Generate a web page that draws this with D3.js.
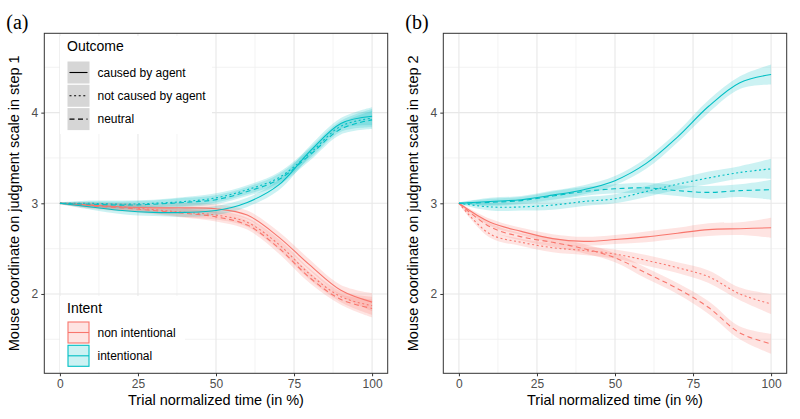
<!DOCTYPE html>
<html>
<head>
<meta charset="utf-8">
<script src="https://cdn.jsdelivr.net/npm/d3@7"></script>
<style>
  html, body { margin: 0; padding: 0; background: #fff; }
  svg { display: block; }
  text { font-family: "Liberation Sans", Arial, sans-serif; }
</style>
</head>
<body>
<svg id="chart" width="800" height="419"></svg>
<script>
// ---------------- DATA ----------------
const times = [0, 10, 20, 30, 40, 50, 60, 70, 80, 90, 100];
const xTickValues = [0, 25, 50, 75, 100];
const yTickValues = [2, 3, 4];
const outcomes = ["caused by agent", "not caused by agent", "neutral"];
const intents = ["non intentional", "intentional"];
const panelLabels = ["(a)", "(b)"];
const yTitles = ["Mouse coordinate on judgment scale in step 1",
                 "Mouse coordinate on judgment scale in step 2"];
const xTitle = "Trial normalized time (in %)";

// Panel (a) – step 1
const a_nonint_caused    = [3.00, 2.98, 2.96, 2.95, 2.95, 2.94, 2.87, 2.63, 2.32, 2.04, 1.91];
const a_nonint_notcaused = [3.00, 2.98, 2.96, 2.93, 2.90, 2.87, 2.79, 2.55, 2.22, 1.97, 1.87];
const a_nonint_neutral   = [3.00, 2.97, 2.95, 2.92, 2.89, 2.85, 2.76, 2.51, 2.18, 1.94, 1.84];
const a_int_caused       = [3.00, 2.96, 2.92, 2.90, 2.90, 2.92, 3.01, 3.20, 3.57, 3.88, 3.96];
const a_int_notcaused    = [3.00, 3.00, 2.99, 3.00, 3.02, 3.06, 3.15, 3.28, 3.55, 3.85, 3.94];
const a_int_neutral      = [3.00, 2.99, 2.98, 2.99, 3.01, 3.04, 3.13, 3.26, 3.53, 3.82, 3.92];
const a_halfwidth        = [0.01, 0.03, 0.04, 0.04, 0.05, 0.05, 0.05, 0.06, 0.06, 0.06, 0.10];

// Panel (b) – step 2
const b_nonint_caused    = [3.00, 2.79, 2.69, 2.61, 2.58, 2.60, 2.63, 2.67, 2.71, 2.72, 2.73];
const b_nonint_notcaused = [3.00, 2.66, 2.57, 2.51, 2.48, 2.44, 2.37, 2.29, 2.19, 2.00, 1.89];
const b_nonint_neutral   = [3.00, 2.74, 2.63, 2.57, 2.50, 2.40, 2.23, 2.06, 1.85, 1.57, 1.45];
const b_int_caused       = [3.00, 3.02, 3.04, 3.09, 3.15, 3.25, 3.44, 3.73, 4.07, 4.33, 4.42];
const b_int_notcaused    = [3.00, 2.96, 2.96, 2.98, 3.02, 3.05, 3.13, 3.21, 3.28, 3.34, 3.38];
const b_int_neutral      = [3.00, 3.01, 3.03, 3.08, 3.13, 3.16, 3.17, 3.14, 3.12, 3.14, 3.15];
const b_halfwidth        = [0.01, 0.04, 0.04, 0.05, 0.05, 0.05, 0.06, 0.06, 0.07, 0.07, 0.11];

// ---------------- STYLE ----------------
const colorByIntent = { "non intentional": "#F8766D", "intentional": "#00BFC4" };
const dashByOutcome = { "caused by agent": null, "not caused by agent": "2,2.6", "neutral": "5,3.5" };

const panels = [
  { left: 44.3, right: 387.7, label: panelLabels[0], yTitle: yTitles[0], hw: a_halfwidth,
    series: [
      { intent: intents[0], outcome: outcomes[0], v: a_nonint_caused },
      { intent: intents[0], outcome: outcomes[1], v: a_nonint_notcaused },
      { intent: intents[0], outcome: outcomes[2], v: a_nonint_neutral },
      { intent: intents[1], outcome: outcomes[0], v: a_int_caused },
      { intent: intents[1], outcome: outcomes[1], v: a_int_notcaused },
      { intent: intents[1], outcome: outcomes[2], v: a_int_neutral }
    ], legend: true },
  { left: 443.3, right: 786.7, label: panelLabels[1], yTitle: yTitles[1], hw: b_halfwidth,
    series: [
      { intent: intents[0], outcome: outcomes[0], v: b_nonint_caused },
      { intent: intents[0], outcome: outcomes[1], v: b_nonint_notcaused },
      { intent: intents[0], outcome: outcomes[2], v: b_nonint_neutral },
      { intent: intents[1], outcome: outcomes[0], v: b_int_caused },
      { intent: intents[1], outcome: outcomes[1], v: b_int_notcaused },
      { intent: intents[1], outcome: outcomes[2], v: b_int_neutral }
    ], legend: false }
];

const plotTop = 33.3, plotBottom = 373.3;
const svg = d3.select("#chart");

panels.forEach((p, pi) => {
  const x = d3.scaleLinear().domain([-5, 105]).range([p.left, p.right]);
  const y = d3.scaleLinear().domain([1.125, 4.875]).range([plotBottom, plotTop]);
  const g = svg.append("g");

  g.append("rect").attr("x", p.left).attr("y", plotTop)
    .attr("width", p.right - p.left).attr("height", plotBottom - plotTop).attr("fill", "#fff");

  const minorX = [12.5, 37.5, 62.5, 87.5];
  const minorY = [1.5, 2.5, 3.5, 4.5];
  g.selectAll(".mgx").data(minorX).enter().append("line")
    .attr("x1", d => x(d)).attr("x2", d => x(d)).attr("y1", plotTop).attr("y2", plotBottom)
    .attr("stroke", "#f0f0f0").attr("stroke-width", 0.8);
  g.selectAll(".mgy").data(minorY).enter().append("line")
    .attr("y1", d => y(d)).attr("y2", d => y(d)).attr("x1", p.left).attr("x2", p.right)
    .attr("stroke", "#f0f0f0").attr("stroke-width", 0.8);
  g.selectAll(".gx").data(xTickValues).enter().append("line")
    .attr("x1", d => x(d)).attr("x2", d => x(d)).attr("y1", plotTop).attr("y2", plotBottom)
    .attr("stroke", "#e8e8e8").attr("stroke-width", 1.1);
  g.selectAll(".gy").data(yTickValues).enter().append("line")
    .attr("y1", d => y(d)).attr("y2", d => y(d)).attr("x1", p.left).attr("x2", p.right)
    .attr("stroke", "#e8e8e8").attr("stroke-width", 1.1);

  const curve = d3.curveCatmullRom.alpha(0.5);
  const area = d3.area()
    .x((d, i) => x(times[i]))
    .y0((d, i) => y(d - p.hw[i]))
    .y1((d, i) => y(d + p.hw[i]))
    .curve(curve);
  const line = d3.line()
    .x((d, i) => x(times[i]))
    .y(d => y(d))
    .curve(curve);

  g.selectAll(".rib").data(p.series).enter().append("path")
    .attr("d", s => area(s.v))
    .attr("fill", s => colorByIntent[s.intent])
    .attr("fill-opacity", 0.2)
    .attr("stroke", "none");
  g.selectAll(".ln").data(p.series).enter().append("path")
    .attr("d", s => line(s.v))
    .attr("fill", "none")
    .attr("stroke", s => colorByIntent[s.intent])
    .attr("stroke-width", 1.1)
    .attr("stroke-dasharray", s => dashByOutcome[s.outcome]);

  const xAxis = d3.axisBottom(x).tickValues(xTickValues).tickFormat(d3.format("d")).tickSize(3).tickPadding(3);
  const yAxis = d3.axisLeft(y).tickValues(yTickValues).tickFormat(d3.format("d")).tickSize(3).tickPadding(3);
  const gx = g.append("g").attr("transform", `translate(0,${plotBottom})`).call(xAxis);
  const gy = g.append("g").attr("transform", `translate(${p.left},0)`).call(yAxis);
  [gx, gy].forEach(a => {
    a.select(".domain").remove();
    a.selectAll(".tick line").attr("stroke", "#333").attr("stroke-width", 1);
    a.selectAll(".tick text").attr("fill", "#4d4d4d")
      .style("font-family", "'Liberation Sans', Arial, sans-serif").style("font-size", "12px");
  });

  g.append("rect").attr("x", p.left).attr("y", plotTop)
    .attr("width", p.right - p.left).attr("height", plotBottom - plotTop)
    .attr("fill", "none").attr("stroke", "#333").attr("stroke-width", 1);

  g.append("text").attr("x", (p.left + p.right) / 2).attr("y", 405)
    .attr("text-anchor", "middle").attr("font-size", "14.5px").attr("fill", "#000")
    .text(xTitle);
  const ty = (plotTop + plotBottom) / 2;
  const tx = p.left - 25;
  g.append("text").attr("transform", `translate(${tx},${ty}) rotate(-90)`)
    .attr("text-anchor", "middle").attr("font-size", "14.5px").attr("fill", "#000")
    .text(p.yTitle);
  g.append("text").attr("x", p.left - 38).attr("y", 29)
    .style("font-family", "'Liberation Serif', 'Times New Roman', serif")
    .attr("font-size", "20px").attr("fill", "#000").text(p.label);

  if (p.legend) {
    const lg = g.append("g");
    lg.append("rect").attr("x", 60).attr("y", 36).attr("width", 152).attr("height", 98).attr("fill", "#fff");
    lg.append("text").attr("x", 67).attr("y", 51).attr("font-size", "14px").attr("fill", "#000").text("Outcome");
    outcomes.forEach((o, i) => {
      const by = 61.5 + i * 23.3;
      lg.append("rect").attr("x", 67.5).attr("y", by).attr("width", 22).attr("height", 22)
        .attr("fill", "#d6d6d6");
      lg.append("line").attr("x1", 69.5).attr("x2", 87.5).attr("y1", by + 11).attr("y2", by + 11)
        .attr("stroke", "#000").attr("stroke-width", 1.1).attr("stroke-dasharray", dashByOutcome[o]);
      lg.append("text").attr("x", 97.5).attr("y", by + 15.2).attr("font-size", "12px").attr("fill", "#000").text(o);
    });
    const ig = g.append("g");
    ig.append("rect").attr("x", 60).attr("y", 296).attr("width", 125).attr("height", 76).attr("fill", "#fff");
    ig.append("text").attr("x", 67).attr("y", 312.5).attr("font-size", "14px").attr("fill", "#000").text("Intent");
    intents.forEach((it, i) => {
      const by = 322 + i * 23.3;
      ig.append("rect").attr("x", 68).attr("y", by).attr("width", 21).attr("height", 21)
        .attr("fill", colorByIntent[it]).attr("fill-opacity", 0.2)
        .attr("stroke", colorByIntent[it]).attr("stroke-width", 1.1);
      ig.append("line").attr("x1", 68).attr("x2", 89).attr("y1", by + 10.5).attr("y2", by + 10.5)
        .attr("stroke", colorByIntent[it]).attr("stroke-width", 1.1);
      ig.append("text").attr("x", 97.5).attr("y", by + 15).attr("font-size", "12px").attr("fill", "#000").text(it);
    });
  }
});
</script>
</body>
</html>
